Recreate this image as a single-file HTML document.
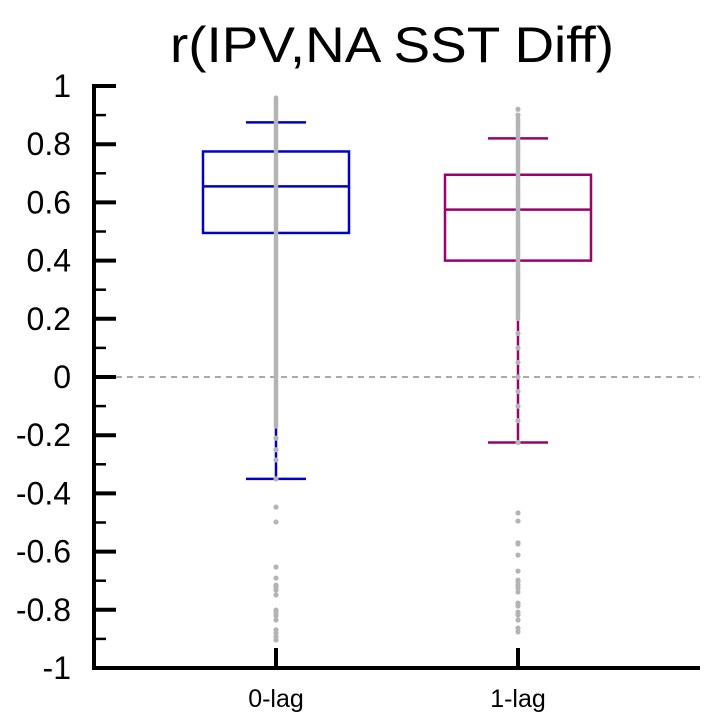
<!DOCTYPE html>
<html><head><meta charset="utf-8"><style>
html,body{margin:0;padding:0;background:#fff;}
svg{display:block;font-family:"Liberation Sans",Arial,sans-serif;}
</style></head><body>
<svg id="chart" width="712" height="726" viewBox="0 0 712 726">
<text x="392" y="62" text-anchor="middle" font-size="50" textLength="444" lengthAdjust="spacingAndGlyphs">r(IPV,NA SST Diff)</text>
<g id="axes"></g>
<g id="plot"></g>
</svg>
<script>
const categories = ["0-lag", "1-lag"];
const colors = ["#0000c8", "#9a006e"];
const whiskerLow = [-0.35, -0.225];
const q1 = [0.495, 0.40];
const median = [0.655, 0.575];
const q3 = [0.775, 0.695];
const whiskerHigh = [0.875, 0.82];
const denseLow = [-0.17, 0.2];
const denseHigh = [0.96, 0.89];
const points0 = [-0.21, -0.25, -0.285, -0.35, -0.447, -0.498, -0.653, -0.691, -0.715, -0.722, -0.732, -0.749, -0.801, -0.811, -0.821, -0.835, -0.869, -0.880, -0.893, -0.904];
const points1 = [0.92, 0.90, 0.15, 0.1, 0.05, 0.0, -0.05, -0.1, -0.15, -0.225, -0.467, -0.495, -0.570, -0.574, -0.612, -0.667, -0.698, -0.704, -0.715, -0.725, -0.739, -0.777, -0.787, -0.808, -0.818, -0.835, -0.863, -0.876];
const pointSets = [points0, points1];
const yTicks = [1, 0.8, 0.6, 0.4, 0.2, 0, -0.2, -0.4, -0.6, -0.8, -1];
const yTickLabels = ["1", "0.8", "0.6", "0.4", "0.2", "0", "-0.2", "-0.4", "-0.6", "-0.8", "-1"];

const NS = "http://www.w3.org/2000/svg";
const X0 = 94, X1 = 700, Y0 = 668, Y1 = 86;
const y = v => Y0 - (v - (-1)) / 2 * (Y0 - Y1);
const xc = i => [276, 518][i];
const boxHalf = 73;
function mk(tag, attrs, parent) {
  const e = document.createElementNS(NS, tag);
  for (const k in attrs) e.setAttribute(k, attrs[k]);
  parent.appendChild(e);
  return e;
}
const axes = document.getElementById("axes");
const plot = document.getElementById("plot");

let zl = mk("line", {x1: X0, x2: X1, y1: y(0), y2: y(0), stroke: "#777", "stroke-width": 1.3, "stroke-dasharray": "6,5"}, axes);



let ya = mk("line", {x1: X0, x2: X0, y1: Y1 - 2, y2: Y0 + 2, stroke: "#000", "stroke-width": 4}, axes);


let xa = mk("line", {x1: X0 - 2, x2: X1, y1: Y0, y2: Y0, stroke: "#000", "stroke-width": 4}, axes);



yTicks.forEach((t, i) => {
  const tk = mk("line", {x1: X0, x2: X0 + 22, y1: y(t), y2: y(t), stroke: "#000", "stroke-width": 4}, axes);
  
  
  const lb = mk("text", {x: 71, y: y(t) + 11, "text-anchor": "end", "font-size": 32}, axes);
  lb.textContent = yTickLabels[i];
  
  
  if (i < yTicks.length - 1) {
    const m = mk("line", {x1: X0, x2: X0 + 12, y1: y(t - 0.1), y2: y(t - 0.1), stroke: "#000", "stroke-width": 2.5}, axes);
    
    
  }
});

categories.forEach((c, i) => {
  const cx = xc(i), col = colors[i];
  const tk = mk("line", {x1: cx, x2: cx, y1: Y0, y2: Y0 - 20, stroke: "#000", "stroke-width": 4}, axes);
  
  
  const lb = mk("text", {x: cx, y: 707, "text-anchor": "middle", "font-size": 25}, axes);
  lb.textContent = c;
  
  

  const g = mk("g", {}, plot);
  
  
  const w = mk("line", {x1: cx, x2: cx, y1: y(whiskerLow[i]), y2: y(whiskerHigh[i]), stroke: col, "stroke-width": 2.5}, g);
  
  
  [whiskerLow[i], whiskerHigh[i]].forEach(v => {
    const cap = mk("line", {x1: cx - 30, x2: cx + 30, y1: y(v), y2: y(v), stroke: col, "stroke-width": 2.5}, g);
    
    
  });
  const r = mk("rect", {x: cx - boxHalf, y: y(q3[i]), width: boxHalf * 2, height: y(q1[i]) - y(q3[i]), fill: "none", stroke: col, "stroke-width": 2.5}, g);
  
  
  const md = mk("line", {x1: cx - boxHalf, x2: cx + boxHalf, y1: y(median[i]), y2: y(median[i]), stroke: col, "stroke-width": 2.5}, g);
  
  

  const band = mk("line", {x1: cx, x2: cx, y1: y(denseLow[i]), y2: y(denseHigh[i]), stroke: "#b4b4b4", "stroke-width": 4.5, "stroke-linecap": "round"}, g);
  
  
  pointSets[i].forEach(v => {
    const p = mk("circle", {cx: cx, cy: y(v), r: 2.6, fill: "#b4b4b4"}, g);
    
    
  });
});
</script>
</body></html>
